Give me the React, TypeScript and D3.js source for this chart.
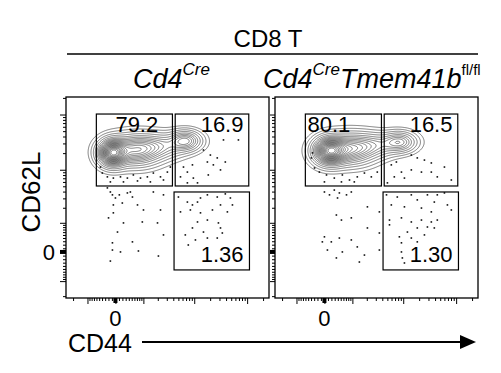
import { useEffect, useRef } from 'react'
import * as d3 from 'd3'

// expression is arcsinh transformed: asinh(intensity / COFACTOR)
const COFACTOR = 650
const GENOTYPES = ['Cd4Cre', 'Cd4Cre Tmem41b fl/fl']
const GATES = ['CD62L+CD44-', 'CD62L+CD44+', 'CD62L-CD44+']
const FREQ_WT = [79.2, 16.9, 1.36]
const FREQ_KO = [80.1, 16.5, 1.30]
const GATE_CD44 = [[-0.83, 2.48], [2.6, 5.8], [2.55, 5.83]]
const GATE_CD62L = [[2.75, 5.75], [2.75, 5.75], [-0.75, 2.5]]
const MAJOR_TICKS = [-1000, 0, 1000, 10000, 100000]
const MINOR_TICKS = [-2000, ...d3.range(-900, 0, 100), ...d3.range(100, 1000, 100), ...d3.range(2000, 10000, 1000), ...d3.range(20000, 100000, 10000), 200000]
const AXIS_LABELS = ['0']
// contour levels as fraction of peak density
const CONTOUR_LEVELS = [0.012, 0.03, 0.06, 0.1, 0.15, 0.2, 0.25, 0.3, 0.35, 0.4, 0.45, 0.5, 0.55, 0.6, 0.65, 0.7, 0.75, 0.8, 0.85, 0.9, 0.95]

// population modes: cd44, cd62l, sd cd44, sd cd62l, weight
const PEAKS_WT = [[-0.13, 4.13, 0.35, 0.31, 1], [0.87, 4.25, 0.65, 0.36, 0.6], [1.96, 4.42, 0.65, 0.3, 0.25], [3.04, 4.63, 0.4, 0.24, 0.42]]
const PEAKS_KO = [[0.22, 4.21, 0.4, 0.32, 1], [1.09, 4.29, 0.65, 0.36, 0.6], [2.17, 4.46, 0.6, 0.29, 0.25], [3.26, 4.58, 0.42, 0.24, 0.4]]

// single events outside the contours: [cd44, cd62l]
const EVENTS_WT = [
  [-0.22,2.5],[-0.13,2.38],[0,2.25],[0.17,2.38],[0.52,2.46],[0.74,2.29],[0.3,2.04],[-0.09,1.96],[0.96,1.96],[1.65,2.5],
  [2.09,2.38],[1.22,1.75],[-0.09,1.63],[-0.3,1.42],[0.35,1.21],[1.17,1.25],[1.96,1.75],[1.83,1.21],[2.09,0.71],[0.09,0.83],
  [-0.13,0.38],[0.74,0.42],[0.22,0],[1,0.04],[-0.13,0.08],[-0.22,-0.38],[1.87,-0.17],[0.65,2.5],[-0.35,2.67],
  [2.74,2.29],[3.13,2.08],[3.35,1.96],[3.57,2.08],[3.7,2.25],[4,2.38],[4.43,2.29],[4.78,2.42],[5,2.25],[5.09,1.96],
  [4.57,1.96],[3.26,1.75],[2.83,1.67],[3.7,1.63],[4.22,1.75],[4.87,1.67],[3.57,1.25],[4,1.33],[4.48,1.21],[3.35,1],
  [3.04,0.71],[3.83,0.83],[4.65,0.79],[3.48,0.5],[4,0.58],[4.43,0.58],[3.17,0.29],[4.57,1],
  [3.83,4.25],[4.13,4.04],[4.43,3.92],[4.78,3.75],[4.7,4.67],[5.35,4.67],[4.26,3.63],[4.04,3.21],[4.57,3.42],[2.96,3.54],
  [3.13,3.33],[3.39,3.08],[2.83,3.13],[3.57,2.88],[3.13,2.88],[4,3.75],[3.35,3.63],
  [-0.57,3.29],[-0.35,3.13],[-0.09,3.08],[0.22,3.13],[0.52,3.08],[0.78,3.21],[1.09,3.08],[1.39,3.13],[1.65,3.29],[1.96,3.13],
  [2.26,3.33],[-0.22,2.92],[0.35,2.92],[0.96,2.96],[1.52,2.92],[2.09,3],[2.39,3.54],[-0.65,3.54],
]
const EVENTS_KO = [
  [0,2.5],[0.22,2.38],[0.43,2.58],[0.65,2.46],[0.96,2.38],[0.57,2.25],[1.17,2.5],[1.87,1.88],[2.39,1.67],[0.52,1.54],
  [0.74,1.33],[1.17,1.42],[0,0.63],[0.3,0.42],[-0.09,0.42],[0.65,0.58],[1.17,0.5],[0.13,0.08],[0.78,0],[0.52,-0.25],
  [1.52,-0.42],[1.74,-0.13],[2.39,0.08],[2.39,0.79],[1.87,1],[1.43,0.21],
  [2.7,2.38],[3.17,2.29],[3.78,2.38],[4.04,2.17],[4.48,2.38],[4.91,2.38],[5.22,2.46],[5.35,1.96],[4.78,2.08],[2.91,1.96],
  [3.48,1.88],[4.22,1.83],[4.65,1.67],[5.52,1.75],[2.83,1.33],[3.35,1.42],[3.78,1.25],[4.22,1.33],[4.65,1.25],[4.91,1.33],
  [4.48,1.04],[4.78,1],[4.04,1],[3.61,0.83],[3.26,0.63],[3.78,0.58],[4.35,0.71],[3.35,0.38],[4.04,0.42],[3.35,0],
  [3.39,-0.25],[3.48,-0.46],[2.83,1.13],
  [3.78,4.04],[4.04,3.92],[4.35,3.83],[4.65,3.71],[5.22,3.54],[5.52,3],[4.22,3.33],[3.78,3.42],[3.35,3.33],[3.13,3.75],
  [2.91,3.63],[3.48,3.08],[3.04,3.13],[2.74,2.88],[4.65,3.33],[4.91,3.13],
  [-0.52,4.13],[-0.57,3.92],[-0.22,3.33],[0.09,3.21],[0.43,3.08],[0.78,3.21],[1.09,3],[1.43,3.13],[1.74,3.29],[2.04,3.13],
  [2.3,3.33],[0,2.92],[0.74,2.92],[1.3,2.92],[-0.43,3.5],
]

// label anchors per panel: [cd44, cd62l, text-anchor]
const LABEL_POS = [
  [[0.93, 5.0, 'middle'], [5.57, 5.0, 'end'], [5.57, -0.42, 'end']],
  [[-0.74, 5.0, 'start'], [5.57, 5.0, 'end'], [5.57, -0.42, 'end']],
]

const FONT = '"Liberation Sans", Arial, sans-serif'
const asinhT = (v: number) => Math.asinh(v / COFACTOR)

export default function App() {
  const ref = useRef<SVGSVGElement>(null)
  useEffect(() => {
    if (!ref.current) return
    const W = 501, H = 373, PW = 203, PH = 201, top = 97
    const panelX = [66, 275]
    const svg = d3.select(ref.current)
    svg.selectAll('*').remove()
    svg.attr('width', W).attr('height', H)
    svg.append('rect').attr('width', W).attr('height', H).attr('fill', '#fff')

    const x = d3.scaleLinear().domain([-2.15, 6.68]).range([0, PW])
    const y = d3.scaleLinear().domain([-1.92, 6.46]).range([PH, 0])

    // header
    svg.append('text').attr('x', 268).attr('y', 47).attr('text-anchor', 'middle')
      .style('font', `24px ${FONT}`).text('CD8 T')
    svg.append('line').attr('x1', 67).attr('x2', 478).attr('y1', 54).attr('y2', 54)
      .attr('stroke', '#000').attr('stroke-width', 1.5)
    const sub = [133, 263]
    GENOTYPES.forEach((gname, p) => {
      const t = svg.append('text').attr('x', sub[p]).attr('y', 88).style('font', `italic 27px ${FONT}`)
      t.append('tspan').text('Cd4')
      t.append('tspan').attr('dy', -13).style('font-size', '17px').text('Cre')
      if (gname.includes('Tmem41b')) {
        t.append('tspan').attr('dy', 13).text('Tmem41b')
        t.append('tspan').attr('dy', -13).style('font-size', '15px').style('font-style', 'normal').text('fl/fl')
      }
    })

    const panels = [
      { freq: FREQ_WT, peaks: PEAKS_WT, events: EVENTS_WT },
      { freq: FREQ_KO, peaks: PEAKS_KO, events: EVENTS_KO },
    ]
    panels.forEach((pd, p) => {
      const g = svg.append('g').attr('transform', `translate(${panelX[p]},${top})`)

      // density grid from population modes
      const grid = new Array(PW * PH)
      for (let j = 0; j < PH; j++) {
        const yv = y.invert(j + 0.5)
        for (let i = 0; i < PW; i++) {
          const xv = x.invert(i + 0.5)
          let s = 0
          for (const [cx, cy, sx, sy, w] of pd.peaks) {
            const dx = (xv - cx) / sx, dy = (yv - cy) / sy
            s += w * Math.exp(-0.5 * (dx * dx + dy * dy))
          }
          grid[j * PW + i] = s
        }
      }
      const maxV = d3.max(grid) as number
      const contours = d3.contours().size([PW, PH]).thresholds(CONTOUR_LEVELS.map(l => l * maxV))(grid)
      g.selectAll('path.ct').data(contours).join('path').attr('class', 'ct')
        .attr('d', d3.geoPath()).attr('fill', 'none')
        .attr('stroke', '#2a2a2a').attr('stroke-width', 0.6)

      g.selectAll('rect.ev').data(pd.events).join('rect').attr('class', 'ev')
        .attr('x', d => x(d[0]) - 0.8).attr('y', d => y(d[1]) - 0.8)
        .attr('width', 1.6).attr('height', 1.6).attr('fill', '#111')

      // gates
      GATES.forEach((_, k) => {
        g.append('rect')
          .attr('x', x(GATE_CD44[k][0])).attr('y', y(GATE_CD62L[k][1]))
          .attr('width', x(GATE_CD44[k][1]) - x(GATE_CD44[k][0]))
          .attr('height', y(GATE_CD62L[k][0]) - y(GATE_CD62L[k][1]))
          .attr('fill', 'none').attr('stroke', '#000').attr('stroke-width', 1.2)
        const [lx, ly, anchor] = LABEL_POS[p][k] as [number, number, string]
        g.append('text').attr('x', x(lx)).attr('y', y(ly)).attr('text-anchor', anchor)
          .style('font', `22px ${FONT}`).text(pd.freq[k].toFixed(k === 2 ? 2 : 1))
      })

      g.append('rect').attr('width', PW).attr('height', PH)
        .attr('fill', 'none').attr('stroke', '#000').attr('stroke-width', 1.3)

      // axes
      const xa = g.append('g').attr('transform', `translate(0,${PH})`)
      xa.append('g').call(d3.axisBottom(x).tickValues(MINOR_TICKS.map(asinhT)).tickSize(3).tickFormat(() => ''))
      xa.append('g').call(d3.axisBottom(x).tickValues(MAJOR_TICKS.map(asinhT)).tickSize(6).tickFormat(() => ''))
      const ya = g.append('g')
      ya.append('g').call(d3.axisLeft(y).tickValues(MINOR_TICKS.map(asinhT)).tickSize(3).tickFormat(() => ''))
      ya.append('g').call(d3.axisLeft(y).tickValues(MAJOR_TICKS.map(asinhT)).tickSize(p === 0 ? 6 : 5).tickFormat(() => ''))
      g.selectAll('.domain').remove()
      g.selectAll('.tick line').attr('stroke', '#000').attr('stroke-width', 1)
      g.append('rect').attr('x', x(0) - 2).attr('y', PH).attr('width', 4).attr('height', 5).attr('fill', '#000')
      g.append('rect').attr('x', p === 0 ? -6 : -5).attr('y', y(0) - 2).attr('width', p === 0 ? 6 : 5).attr('height', 4).attr('fill', '#000')

      g.append('text').attr('x', x(0)).attr('y', 229).attr('text-anchor', 'middle')
        .style('font', `22px ${FONT}`).text(AXIS_LABELS[0])
      if (p === 0) {
        g.append('text').attr('x', -11).attr('y', y(0) + 8).attr('text-anchor', 'end')
          .style('font', `22px ${FONT}`).text(AXIS_LABELS[0])
      }
    })

    // axis titles
    svg.append('text').attr('transform', 'translate(40,192) rotate(-90)').attr('text-anchor', 'middle')
      .style('font', `26px ${FONT}`).text('CD62L')
    svg.append('text').attr('x', 68).attr('y', 352).style('font', `25px ${FONT}`).text('CD44')
    svg.append('line').attr('x1', 142).attr('x2', 462).attr('y1', 342).attr('y2', 342)
      .attr('stroke', '#000').attr('stroke-width', 2)
    svg.append('path').attr('d', 'M460,335L476,342L460,349Z').attr('fill', '#000')
  }, [])
  return <svg ref={ref} style={{ position: 'absolute', left: 0, top: 0 }} />
}
